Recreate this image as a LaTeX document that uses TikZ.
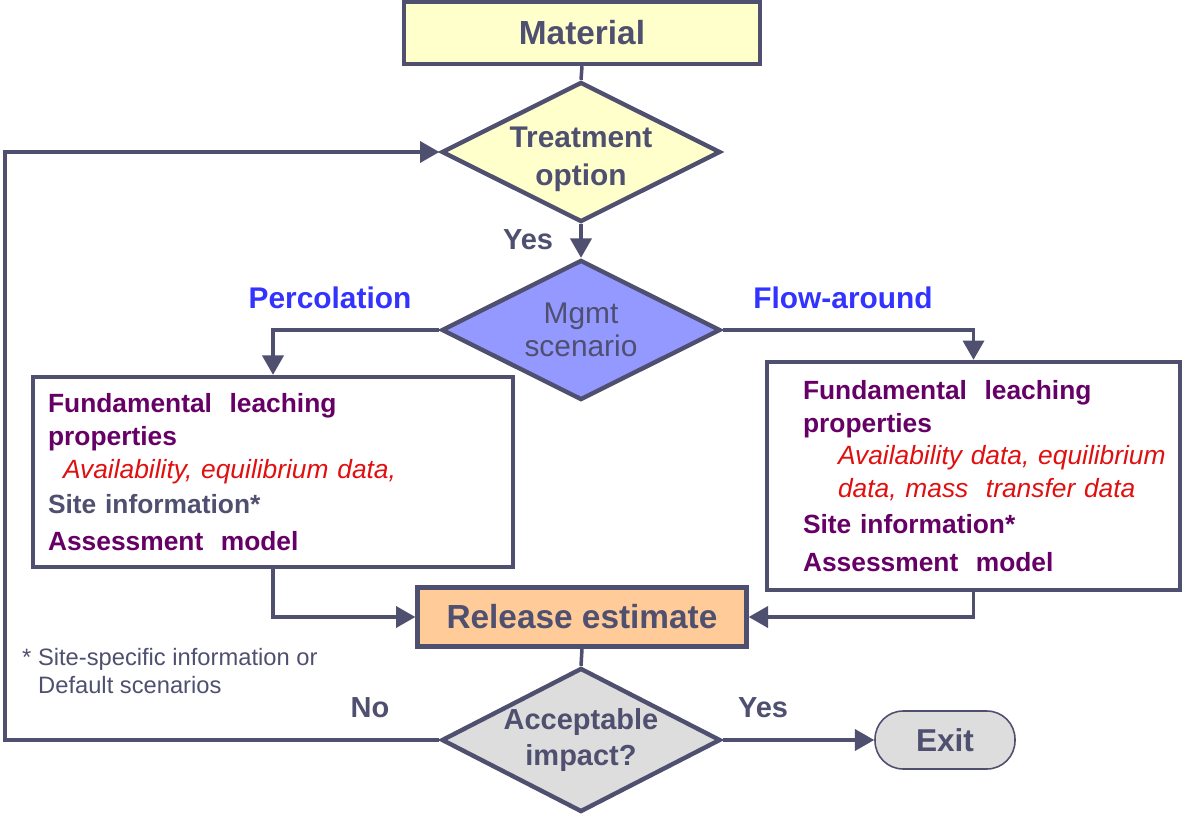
\documentclass[tikz,border=0pt]{standalone}
\usepackage{fontspec}
\setmainfont{Liberation Sans}
\usetikzlibrary{shapes,arrows.meta,positioning,calc}
\definecolor{ink}{HTML}{4F4F70}
\definecolor{paleyellow}{HTML}{FFFFCC}
\definecolor{periwinkle}{HTML}{9499FF}
\definecolor{peach}{HTML}{FFCC99}
\definecolor{lightgrey}{HTML}{DDDDDD}
\definecolor{plum}{HTML}{660066}
\definecolor{leachred}{HTML}{E01010}
\definecolor{pathblue}{HTML}{3333FF}

\tikzset{
  stepbox/.style={draw=ink, line width=2.5pt, inner sep=0pt, text=ink, font=\bfseries\fontsize{19}{22}\selectfont},
  decision/.style={diamond, aspect=2, draw=ink, line width=2.5pt, inner sep=-4pt, minimum width=5.58cm, minimum height=2.8cm, align=center, text=ink},
  infobox/.style={draw=ink, line width=2.5pt, fill=white, align=left, inner sep=0pt},
  flowline/.style={draw=ink, line width=2pt},
  arrowline/.style={flowline, -{Triangle[length=11pt,width=12pt]}},
  branch/.style={text=pathblue, font=\bfseries\fontsize{17}{19}\selectfont},
  answer/.style={text=ink, font=\bfseries\fontsize{16.5}{19}\selectfont},
}

\begin{document}
\begin{tikzpicture}[x=0.02cm, y=-0.02cm]
\useasboundingbox (0,0) rectangle (1183,814);

% main column
\node[stepbox, fill=paleyellow, minimum width=7.12cm, minimum height=1.24cm] (material) at (582,33) {Material};
\node[decision, fill=paleyellow, font=\bfseries\fontsize{17}{22}\selectfont] (treat) at (581,152) {\rule{0pt}{20pt}Treatment\\option};
\node[decision, fill=periwinkle, font=\fontsize{17}{19}\selectfont] (mgmt) at (581,330) {Mgmt\\scenario};
\node[stepbox, fill=peach, minimum width=6.58cm, minimum height=1.18cm] (release) at (582,617) {Release estimate};
\node[decision, fill=lightgrey, minimum height=2.88cm, font=\bfseries\fontsize{16.5}{21}\selectfont] (accept) at (581,740) {Acceptable\\impact?};
\node[draw=ink, line width=0.9pt, fill=lightgrey, rounded corners=16pt, minimum width=2.8cm, minimum height=1.16cm, text=ink, font=\bfseries\fontsize{18}{20}\selectfont] (exit) at (945,740) {Exit};

% the two scenario boxes
\node[infobox, minimum width=9.6cm, minimum height=3.8cm, text width=9.0cm, font=\fontsize{15}{19}\selectfont] (perc) at (273,472) {
    {\bfseries\color{plum}Fundamental\ \ leaching}\\
    {\bfseries\color{plum}properties}\\
    \hspace*{0.3cm}{\itshape\color{leachred}Availability, equilibrium data,}\\[1pt]
    {\bfseries\color{ink}Site\ information*}\\[2pt]
    {\bfseries\color{plum}Assessment\ \ model}
};
\node[infobox, minimum width=8.26cm, minimum height=4.56cm, text width=6.82cm, font=\fontsize{15}{18.5}\selectfont] (flow) at (973.5,476) {
    {\bfseries\color{plum}Fundamental\ \ leaching}\\
    {\bfseries\color{plum}properties}\\
    \hspace*{0.7cm}\mbox{\itshape\color{leachred}Availability data, equilibrium}\\
    \hspace*{0.7cm}\mbox{\itshape\color{leachred}data, mass\ \ transfer data}\\[2pt]
    {\bfseries\color{plum}Site\ information*}\\[3pt]
    {\bfseries\color{plum}Assessment\ \ model}
};

% labels
\node[branch] (perclabel) at (330,298) {Percolation};
\node[branch] (flowlabel) at (843,298) {Flow-around};
\node[answer] (yestop) at (528,240) {Yes};
\node[answer] (nolabel) at (370,708) {No};
\node[answer] (yesexit) at (763,708) {Yes};
\node[anchor=north west, align=left, text=ink, font=\fontsize{13.5}{16}\selectfont] (note) at (16,642) {* Site-specific information or\\\hspace*{0.32cm}Default scenarios};

% connectors
\draw[flowline] (material.south) -- (treat.north);
\draw[arrowline] (treat.south) -- (mgmt.north);
\draw[arrowline] (mgmt.west) -| (perc.north);
\draw[arrowline] (mgmt.east) -| (flow.north);
\draw[arrowline] (perc.south) |- (release.west);
\draw[arrowline] (flow.south) |- (release.east);
\draw[flowline] (release.south) -- (accept.north);
\draw[arrowline] (accept.east) -- (exit.west);
\coordinate (back) at (5,740);
\draw[arrowline] (accept.west) -- (back) |- (treat.west);
\end{tikzpicture}
\end{document}
